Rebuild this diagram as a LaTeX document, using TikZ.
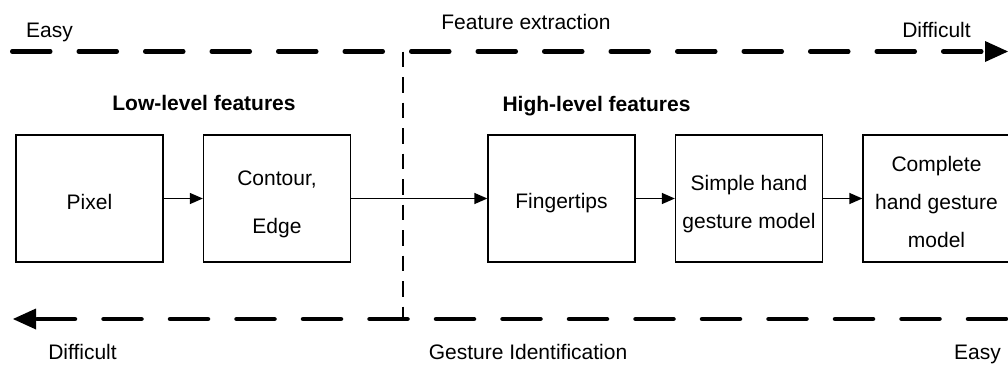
\documentclass[tikz,border=0pt]{standalone}
\usepackage{fontspec}
\setmainfont{Liberation Sans}
\usetikzlibrary{arrows.meta}
\begin{document}
\begin{tikzpicture}[x=1pt,y=-1pt,
  every node/.style={font=\fontsize{21pt}{38pt}\selectfont},
  box/.style={draw, line width=1.3pt, minimum width=147pt, minimum height=127pt, inner sep=0pt, align=center},
  flow/.style={line width=1.3pt, -{Triangle[length=13pt,width=11pt]}},
  axis/.style={line width=4.5pt, line cap=round, dash pattern=on 38pt off 28.5pt, -{Triangle[length=23pt,width=21pt,line width=0pt]}},
  divider/.style={line width=1.3pt, dash pattern=on 15.5pt off 10pt},
  lbl/.style={anchor=base, inner sep=0pt},
  head/.style={anchor=base, inner sep=0pt, font=\fontsize{21pt}{25pt}\selectfont\bfseries}]
\useasboundingbox (0,0) rectangle (1008,364);
% boxes
\node[box, text height=21pt, text depth=0pt] (pixel) at (89.5,198.5) {Pixel};
\node[box, text height=69pt, text depth=0pt] (contour) at (277,198.5) {Contour,\\[10pt]Edge};
\node[box, text height=19pt, text depth=0pt] (finger) at (561.5,198.5) {Fingertips};
\node[box, text height=59pt, text depth=0pt] (simple) at (749,198.5) {Simple hand\\gesture model};
\node[box, text height=97pt, text depth=0pt] (complete) at (936.5,198.5) {Complete\\hand gesture\\model};
% flow arrows
\draw[flow] (pixel) -- (contour);
\draw[flow] (contour) -- (finger);
\draw[flow] (finger) -- (simple);
\draw[flow] (simple) -- (complete);
% axes
\coordinate (divtop) at (403,51.5);
\coordinate (divbot) at (403,319);
\coordinate (topstart) at (12.25,51.5);
\coordinate (topend) at (1008,51.5);
\coordinate (botstart) at (1006,319);
\coordinate (botend) at (13,319);
\draw[divider] (divtop) -- (divbot);
\draw[axis] (topstart) -- (topend);
\draw[axis] (botstart) -- (botend);
% labels
\node[lbl] (easytop) at (49.5,37) {Easy};
\node[lbl] (featext) at (526,29) {Feature extraction};
\node[lbl] (difftop) at (936.5,37) {Difficult};
\node[head] (low) at (204,110) {Low-level features};
\node[head] (high) at (596.5,111) {High-level features};
\node[lbl] (diffbot) at (82.5,359) {Difficult};
\node[lbl] (gesture) at (528,359) {Gesture Identification};
\node[lbl] (easybot) at (977.5,359) {Easy};
\end{tikzpicture}
\end{document}
